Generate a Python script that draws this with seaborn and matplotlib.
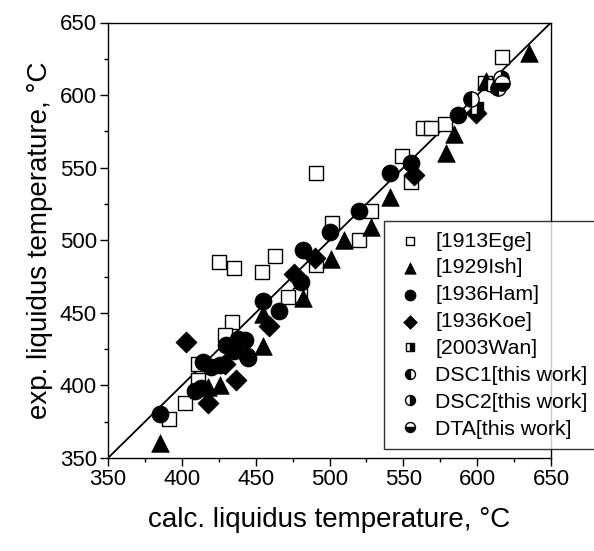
import matplotlib
matplotlib.use("Agg")
import matplotlib.pyplot as plt
import seaborn as sns
import numpy as np
from matplotlib.ticker import MultipleLocator

# ---- data (calc, exp) ----
ege_x = [617, 605, 578, 563, 569, 549, 555, 528, 520, 502, 491, 491, 480, 472, 463, 454, 435, 425, 434, 429, 411, 411, 402, 391]
ege_y = [626, 608, 580, 577, 577, 558, 540, 520, 500, 512, 546, 483, 462, 461, 489, 478, 481, 485, 444, 435, 415, 404, 388, 377]

ish_x = [635, 606, 584, 579, 541, 528, 510, 501, 482, 455, 455, 426, 418, 385]
ish_y = [629, 610, 573, 560, 530, 509, 500, 487, 460, 449, 427, 400, 399, 360]

ham_x = [613, 587, 555, 541, 520, 500, 482, 481, 455, 466, 444, 430, 438, 443, 435, 445, 414, 420, 426, 409, 413, 385]
ham_y = [606, 586, 553, 546, 520, 506, 493, 471, 458, 451, 420, 428, 432, 431, 424, 419, 416, 413, 414, 396, 398, 380]

koe_x = [599, 557, 490, 476, 459, 429, 437, 418, 403]
koe_y = [588, 545, 488, 477, 441, 415, 404, 388, 430]

wan_x = [600, 611]
wan_y = [591, 607]

dsc1_x = [596, 614]
dsc1_y = [597, 605]

dsc2_x = [616]
dsc2_y = [612]

dta_x = [617]
dta_y = [608]

labels = ["[1913Ege]", "[1929Ish]", "[1936Ham]", "[1936Koe]", "[2003Wan]",
          "DSC1[this work]", "DSC2[this work]", "DTA[this work]"]

# ---- figure ----
sns.set_theme(style="ticks")
plt.rcParams["font.family"] = ["Liberation Sans", "DejaVu Sans"]
plt.rcParams["text.color"] = "black"
plt.rcParams["axes.labelcolor"] = "black"
plt.rcParams["xtick.color"] = "black"
plt.rcParams["ytick.color"] = "black"

fig = plt.figure(figsize=(5.94, 5.51), dpi=100)
ax = fig.add_axes([108/594, 1-458/551, (551-108)/594, (458-22.5)/551])

# 1:1 line
sns.lineplot(x=[350, 650], y=[350, 650], ax=ax, color="black", lw=1.3, zorder=1)

sns.scatterplot(x=ege_x, y=ege_y, ax=ax, marker="s", s=90, facecolor="white",
                edgecolor="black", linewidth=1.0, label=labels[0], zorder=2)
sns.scatterplot(x=ish_x, y=ish_y, ax=ax, marker="^", s=160, color="black",
                edgecolor="black", linewidth=0.5, label=labels[1], zorder=3)
sns.scatterplot(x=ham_x, y=ham_y, ax=ax, marker="o", s=150, color="black",
                edgecolor="black", linewidth=0.5, label=labels[2], zorder=3)
sns.scatterplot(x=koe_x, y=koe_y, ax=ax, marker="D", s=115, color="black",
                edgecolor="black", linewidth=0.5, label=labels[3], zorder=3)

half = dict(estimator=None, sort=False, linestyle="", color="black",
            markerfacecolor="black", markerfacecoloralt="white",
            markeredgecolor="black", markeredgewidth=1.0, ax=ax, zorder=4)
sns.lineplot(x=wan_x, y=wan_y, marker="s", markersize=9, fillstyle="right", label=labels[4], **half)
sns.lineplot(x=dsc1_x, y=dsc1_y, marker="o", markersize=11, fillstyle="left", label=labels[5], **half)
sns.lineplot(x=dsc2_x, y=dsc2_y, marker="o", markersize=11, fillstyle="right", label=labels[6], **half)
sns.lineplot(x=dta_x, y=dta_y, marker="o", markersize=11, fillstyle="bottom", label=labels[7], **half)

ax.set_xlim(350, 650)
ax.set_ylim(350, 650)
ax.xaxis.set_major_locator(MultipleLocator(50))
ax.yaxis.set_major_locator(MultipleLocator(50))
ax.xaxis.set_minor_locator(MultipleLocator(25))
ax.yaxis.set_minor_locator(MultipleLocator(25))
ax.tick_params(which="major", direction="out", length=6, width=1, color="black",
               labelcolor="black", labelsize=16, top=False, right=False, pad=2)
ax.tick_params(which="minor", direction="out", length=3, width=1, color="black",
               top=False, right=False)
for sp in ax.spines.values():
    sp.set_visible(True)
    sp.set_color("black")
    sp.set_linewidth(1.0)

ax.set_xlabel("calc. liquidus temperature, °C", fontsize=20, labelpad=12, color="black")
ax.set_ylabel("exp. liquidus temperature, °C", fontsize=20, labelpad=5, color="black")

handles, labs = ax.get_legend_handles_labels()
order = [labs.index(l) for l in labels]
leg = ax.legend([handles[i] for i in order], [labs[i] for i in order],
                loc="upper left",
                bbox_to_anchor=(384/594, 1-449/551, 240/594, 228/551),
                bbox_transform=fig.transFigure, mode="expand",
                frameon=True, fancybox=False,
                edgecolor="black", fontsize=15.3, markerscale=0.65,
                handletextpad=0.5, borderpad=0.5, labelspacing=0.37,
                handlelength=1.4, borderaxespad=0)
leg.get_frame().set_linewidth(1.0)
leg.set_zorder(10)

fig.savefig("out.png", dpi=100)
